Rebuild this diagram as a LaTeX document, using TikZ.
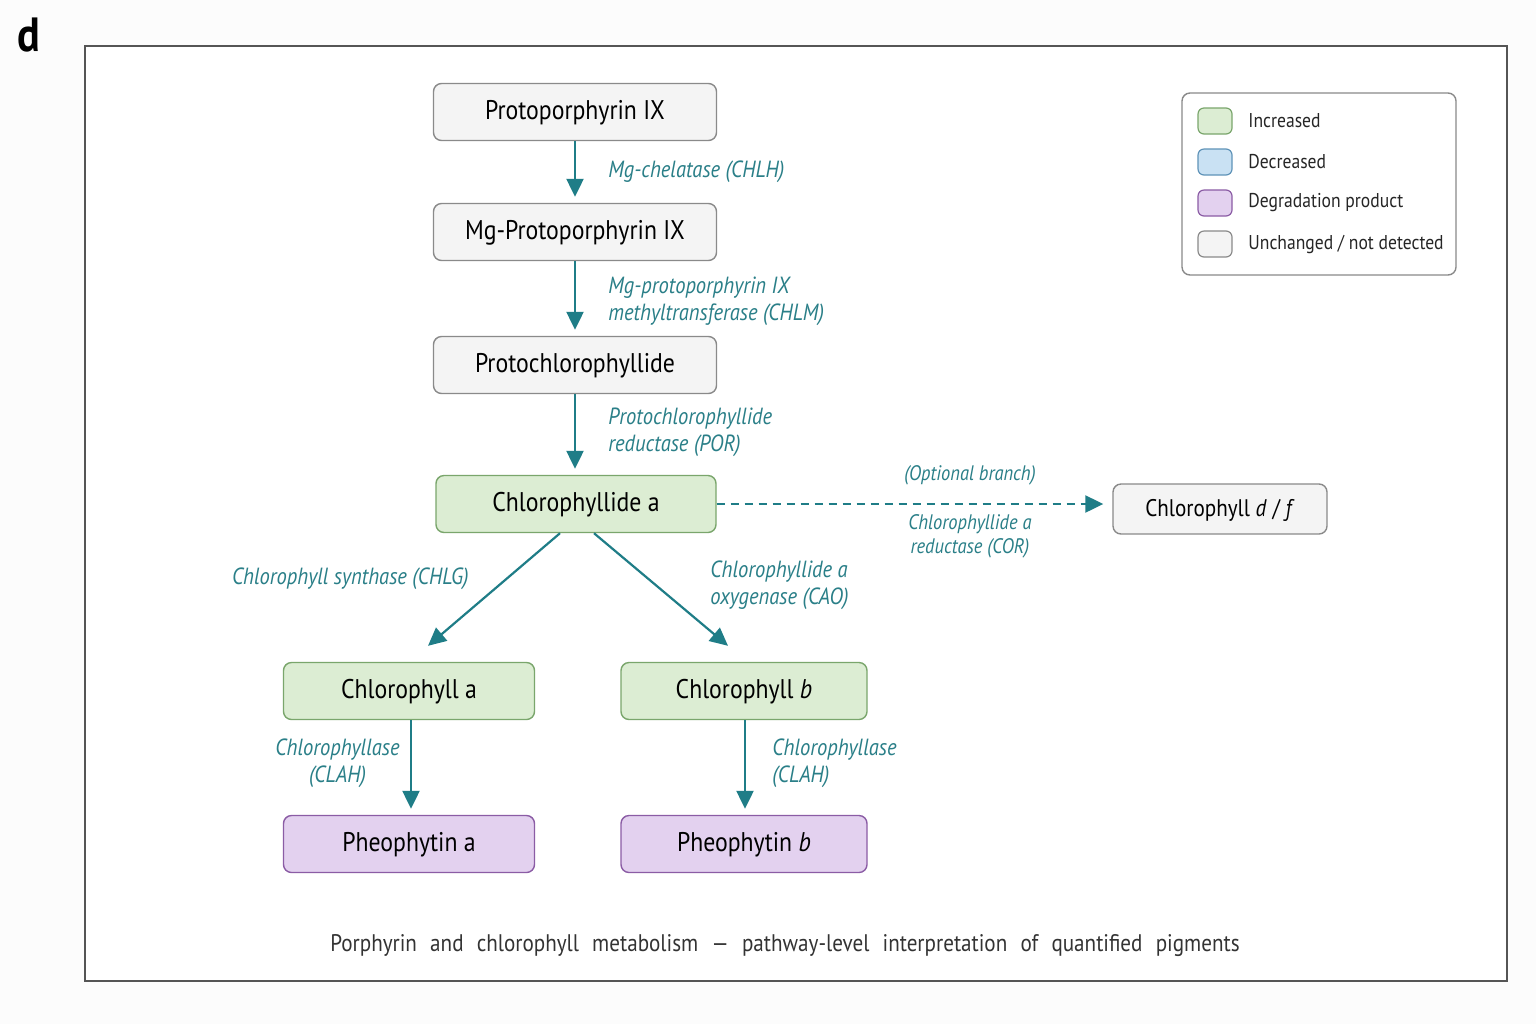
\documentclass[tikz,border=0pt]{standalone}
\usepackage{fontspec}
\setmainfont{PT Sans}[FakeStretch=0.88]
\usetikzlibrary{arrows.meta}
\definecolor{tealc}{HTML}{1F7D87}
\definecolor{tealtxt}{HTML}{2A7F88}
\definecolor{greenfill}{HTML}{DCEDD3}
\definecolor{greenline}{HTML}{7AA66C}
\definecolor{purfill}{HTML}{E3D1EF}
\definecolor{purline}{HTML}{8B5CA5}
\definecolor{grayfill}{HTML}{F4F4F4}
\definecolor{grayline}{HTML}{8A8A8A}
\definecolor{bluefill}{HTML}{C9E1F3}
\definecolor{blueline}{HTML}{5F93B8}
\definecolor{framec}{HTML}{555555}
\definecolor{captc}{HTML}{333333}
\tikzset{
  box/.style={draw, rounded corners=4pt, line width=0.7pt, minimum height=28.5pt,
    text=black, font=\fontsize{13.5}{16}\selectfont, inner sep=0pt, text height=0.7em, text depth=0pt},
  gbox/.style={box, fill=grayfill, draw=grayline},
  grbox/.style={box, fill=greenfill, draw=greenline},
  pbox/.style={box, fill=purfill, draw=purline},
  arr/.style={draw=tealc, line width=1.1pt, -{Triangle[length=9pt,width=8.5pt]}, shorten >=3pt},
  lab/.style={text=tealtxt, font=\fontsize{11.7}{13.3}\selectfont\itshape, inner sep=0pt, align=left},
  swatch/.style={draw, rounded corners=3pt, line width=0.6pt, minimum width=17pt, minimum height=13pt, inner sep=0pt},
  legtxt/.style={anchor=west, font=\fontsize{10}{12}\selectfont, text=black!85, inner sep=0pt}
}
\begin{document}
\begin{tikzpicture}[x=0.5pt,y=-0.5pt]
\useasboundingbox (0,0) rectangle (1536,1024);
\fill[white!99!black] (0,0) rectangle (1536,1024);
\fill[white] (85,46) rectangle (1507,981);
\draw[framec, line width=1pt] (85,46) rectangle (1507,981);
\node[font=\fontsize{24}{28}\selectfont\bfseries, inner sep=0pt] (panel) at (29,35) {d};

% main nodes
\node[gbox, minimum width=141.5pt] (pp) at (575,112) {Protoporphyrin IX};
\node[gbox, minimum width=141.5pt] (mg) at (575,232) {Mg-Protoporphyrin IX};
\node[gbox, minimum width=141.5pt] (pc) at (575,365) {Protochlorophyllide};
\node[grbox, minimum width=140pt] (cda) at (576,504) {Chlorophyllide a};
\node[gbox, minimum width=107pt, minimum height=25pt, font=\fontsize{12}{14}\selectfont] (cdf) at (1220,509) {Chlorophyll \textit{d} / \textit{f}};
\node[grbox, minimum width=125.5pt] (cla) at (409,691) {Chlorophyll a};
\node[grbox, minimum width=123pt] (clb) at (744,691) {Chlorophyll \textit{b}};
\node[pbox, minimum width=125.5pt] (pha) at (409,844) {Pheophytin a};
\node[pbox, minimum width=123pt] (phb) at (744,844) {Pheophytin \textit{b}};

% connectors
\draw[arr] (pp) -- (mg);
\draw[arr] (mg) -- (pc);
\draw[arr] (pc.south) -- (pc.south |- cda.north);
\draw[arr, shorten >=0pt] ([xshift=-8pt]cda.south) -- ([xshift=9.5pt,yshift=8pt]cla.north);
\draw[arr, shorten >=0pt] ([xshift=9pt]cda.south) -- ([xshift=-8pt,yshift=8pt]clb.north);
\draw[arr] ([xshift=1pt]cla.south) -- ([xshift=1pt]pha.north);
\draw[arr] ([xshift=0.5pt]clb.south) -- ([xshift=0.5pt]phb.north);
\draw[arr, dashed, dash pattern=on 4pt off 3pt, shorten >=4.5pt] (cda.east) -- (cda.east -| cdf.west);

% enzyme labels
\node[lab, anchor=west] (l1) at (608,172) {Mg-chelatase (CHLH)};
\node[lab, anchor=west] (l2) at (608,301) {Mg-protoporphyrin IX\\methyltransferase (CHLM)};
\node[lab, anchor=west] (l3) at (608,432) {Protochlorophyllide\\reductase (POR)};
\node[lab, anchor=center, font=\fontsize{10.5}{12}\selectfont\itshape] (l4) at (970,475) {(Optional branch)};
\node[lab, anchor=center, align=center, font=\fontsize{10.5}{12}\selectfont\itshape] (l5) at (970,536) {Chlorophyllide a\\reductase (COR)};
\node[lab, anchor=east] (l6) at (469,579) {Chlorophyll synthase (CHLG)};
\node[lab, anchor=west] (l7) at (710,585) {Chlorophyllide a\\oxygenase (CAO)};
\node[lab, anchor=east, align=center] (l8) at (400,763) {Chlorophyllase\\(CLAH)};
\node[lab, anchor=west] (l9) at (772,763) {Chlorophyllase\\(CLAH)};

% legend
\draw[grayline, line width=0.7pt, fill=white, rounded corners=4pt] (1182,93) rectangle (1456,275);
\node[swatch, fill=greenfill, draw=greenline] (s1) at (1215,121) {};
\node[swatch, fill=bluefill, draw=blueline] (s2) at (1215,162) {};
\node[swatch, fill=purfill, draw=purline] (s3) at (1215,203) {};
\node[swatch, fill=grayfill, draw=grayline] (s4) at (1215,244) {};
\node[legtxt] (t1) at (1248,121) {Increased};
\node[legtxt] (t2) at (1248,162) {Decreased};
\node[legtxt] (t3) at (1248,203) {Degradation product};
\node[legtxt] (t4) at (1248,244) {Unchanged / not detected};

% caption
\node[font=\fontsize{12}{14}\selectfont, text=captc, inner sep=0pt] (cap) at (785,946)
  {\spaceskip=0.55em plus 0.1em Porphyrin and chlorophyll metabolism — pathway-level interpretation of quantified pigments};
\end{tikzpicture}
\end{document}
